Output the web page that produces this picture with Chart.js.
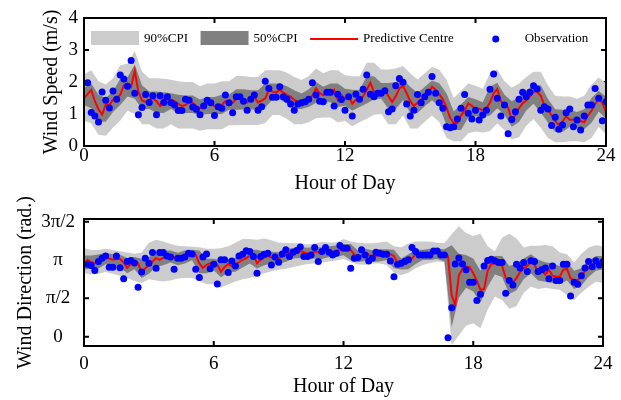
<!DOCTYPE html>
<html>
<head>
<meta charset="utf-8">
<script src="https://cdn.jsdelivr.net/npm/chart.js@4.4.1/dist/chart.umd.min.js"></script>
<style>
  html, body { margin: 0; padding: 0; background: #fff; }
  .panel { position: absolute; left: 0; width: 621px; }
  #speedPanel { top: 0; height: 200px; }
  #directionPanel { top: 180px; height: 220px; }
  canvas { display: block; }
</style>
</head>
<body>
<div class="panel" id="speedPanel"><canvas id="speedChart" width="621" height="200"></canvas></div>
<div class="panel" id="directionPanel"><canvas id="directionChart" width="621" height="220"></canvas></div>
<script>
// observations every 10 min starting 00:10, centre every 10 min from 00:00,
// interval bounds every 20 min from 00:00
const stepHours = 1 / 6;
const bandStepHours = 1 / 3;
const hourTicks = [0, 6, 12, 18, 24];

// ---- wind speed (m/s) ----
const speedObserved = [
  1.98,1.05,0.94,0.75,1.69,1.43,1.19,1.72,1.46,2.22,
  2.09,1.87,2.67,1.65,0.98,1.20,1.61,1.36,1.57,0.98,
  1.57,1.36,1.54,1.35,1.28,1.11,1.11,1.46,1.43,1.22,
  1.15,0.98,1.25,1.43,1.35,0.95,1.23,1.18,1.59,1.35,
  1.04,1.54,1.54,1.40,1.12,1.46,1.59,1.12,1.23,2.02,
  1.80,1.52,1.52,1.85,1.54,1.46,1.31,1.12,1.31,1.35,
  1.38,1.46,1.98,1.59,1.40,1.38,1.68,1.68,1.25,1.62,
  1.45,1.12,1.54,0.94,1.62,1.46,1.77,2.22,1.62,1.54,
  1.65,1.65,1.73,1.07,1.16,1.88,2.11,1.99,1.31,0.94,
  1.12,1.61,1.35,1.54,1.68,2.17,1.65,1.35,1.18,0.60,
  0.57,0.60,0.84,1.18,1.61,1.02,0.84,1.12,0.81,0.97,
  1.12,1.77,2.25,1.49,0.94,1.28,0.38,0.83,1.07,1.46,
  1.68,1.54,1.68,1.88,1.78,1.12,1.23,1.16,0.64,0.90,
  0.52,0.66,1.04,1.16,0.60,0.81,0.50,0.94,1.28,1.28,
  1.80,1.49,0.79,1.38
];
const speedCentre = [
  1.50,1.62,1.75,1.40,1.15,0.98,1.30,1.28,1.45,1.50,
  1.60,1.90,1.95,1.85,2.35,1.70,1.42,1.38,1.45,1.50,
  1.40,1.25,1.48,1.38,1.45,1.40,1.32,1.25,1.28,1.38,
  1.35,1.25,1.18,1.22,1.30,1.33,1.25,1.22,1.28,1.40,
  1.38,1.35,1.49,1.57,1.46,1.36,1.48,1.54,1.36,1.42,
  1.49,1.75,1.70,1.67,1.75,1.67,1.59,1.54,1.44,1.38,
  1.38,1.44,1.46,1.57,1.80,1.65,1.59,1.65,1.59,1.75,
  1.44,1.59,1.48,1.56,1.32,1.45,1.44,1.55,1.75,1.98,
  1.68,1.70,1.70,1.77,1.55,1.38,1.55,1.80,1.88,1.65,
  1.40,1.25,1.35,1.46,1.52,1.65,1.85,1.76,1.62,1.45,
  1.20,0.88,0.72,0.72,0.95,1.10,1.33,1.26,1.15,1.16,
  1.12,1.17,1.36,1.65,1.78,1.40,1.28,1.20,0.82,0.97,
  1.18,1.33,1.42,1.54,1.70,1.70,1.57,1.27,1.14,0.95,
  0.78,0.66,0.76,0.93,0.82,0.82,0.86,0.78,0.74,0.95,
  1.10,1.30,1.52,1.34,1.07
];
const speedUpper90 = [
  2.24,2.37,2.02,1.92,2.12,2.52,2.57,2.97,2.32,2.12,
  2.12,2.10,2.07,2.02,2.00,2.00,1.87,1.95,1.95,2.02,
  2.02,2.19,2.19,2.16,2.16,2.37,2.37,2.37,2.29,2.16,
  2.06,2.19,2.42,2.27,2.37,2.37,2.21,2.18,2.17,2.60,
  2.60,2.39,2.39,2.42,2.50,2.27,2.08,2.27,2.47,2.38,
  2.07,1.50,1.72,1.95,1.88,1.79,2.27,2.40,2.02,1.82,
  1.95,2.16,2.32,2.32,1.89,1.57,1.55,1.55,1.48,1.57,
  1.92,2.14,1.96
];
const speedLower90 = [
  0.80,0.70,0.35,0.32,0.58,0.80,1.10,1.00,0.68,0.68,
  0.55,0.55,0.68,0.55,0.55,0.55,0.48,0.52,0.52,0.52,
  0.65,0.65,0.66,0.66,0.66,0.72,0.97,0.97,0.84,0.68,
  0.68,0.74,0.87,0.89,0.89,0.74,0.78,0.62,0.74,0.85,
  0.98,1.00,0.68,0.68,0.95,0.55,0.55,0.76,0.95,0.75,
  0.25,0.15,0.15,0.40,0.45,0.42,0.47,0.70,0.50,0.20,
  0.27,0.63,0.84,0.57,0.25,0.12,0.12,0.15,0.15,0.12,
  0.25,0.60,0.37
];
const speedUpper50 = [
  1.82,1.95,1.60,1.50,1.70,2.10,2.15,2.55,1.90,1.70,
  1.70,1.68,1.65,1.60,1.58,1.58,1.45,1.53,1.53,1.60,
  1.60,1.77,1.77,1.74,1.74,1.95,1.95,1.95,1.87,1.74,
  1.64,1.77,2.00,1.85,1.95,1.95,1.79,1.76,1.75,2.18,
  2.18,1.97,1.97,2.00,2.08,1.85,1.66,1.85,2.05,1.96,
  1.65,1.08,1.30,1.53,1.46,1.37,1.85,1.98,1.60,1.40,
  1.53,1.74,1.90,1.90,1.47,1.15,1.13,1.13,1.06,1.15,
  1.50,1.72,1.54
];
const speedLower50 = [
  1.28,1.18,0.76,0.76,1.06,1.28,1.55,1.48,1.16,1.16,
  1.03,1.03,1.16,1.03,1.03,1.03,0.96,1.00,1.00,1.00,
  1.13,1.13,1.14,1.14,1.14,1.20,1.45,1.45,1.32,1.16,
  1.16,1.22,1.35,1.37,1.37,1.22,1.26,1.10,1.22,1.33,
  1.46,1.48,1.16,1.16,1.43,1.03,1.03,1.24,1.43,1.23,
  0.66,0.50,0.50,0.88,0.93,0.90,0.95,1.18,0.98,0.60,
  0.75,1.11,1.32,1.05,0.73,0.44,0.44,0.60,0.56,0.52,
  0.73,1.08,0.85
];

// ---- wind direction (rad) ----
const directionObserved = [
  2.97,2.92,2.71,3.08,3.21,3.30,2.84,2.84,3.31,2.82,
  2.37,3.08,3.12,3.02,2.03,2.65,3.21,3.01,3.45,2.80,
  3.45,3.45,3.31,3.26,2.76,3.21,3.21,3.26,3.42,3.39,
  2.76,2.42,3.26,3.39,2.78,2.97,2.16,3.15,3.15,2.63,
  3.10,2.90,3.31,3.38,3.52,3.49,3.28,2.60,3.28,3.38,
  3.42,2.94,3.26,3.05,3.39,3.56,3.28,3.46,3.53,3.67,
  3.28,3.28,3.35,3.65,3.08,3.49,3.65,3.46,3.35,3.42,
  3.73,3.62,3.62,2.80,3.21,3.24,3.56,3.35,3.10,3.21,
  3.46,3.42,3.38,3.38,3.10,2.46,2.97,3.01,3.08,3.15,
  3.65,3.49,3.35,3.35,3.35,3.35,3.51,3.51,3.35,3.35,
  -0.04,1.19,2.98,3.22,2.98,2.74,2.23,2.23,1.48,1.74,
  2.90,3.12,3.17,3.11,3.04,3.04,1.78,2.30,2.12,2.97,
  2.81,3.04,2.67,3.11,3.08,2.67,2.74,2.81,2.37,2.90,
  2.30,2.30,2.97,2.97,1.67,2.23,2.15,2.50,2.81,3.08,
  2.87,3.11,2.94,3.08
];
const directionCentre = [
  2.97,3.15,3.05,3.01,3.12,3.19,3.26,3.20,3.15,3.18,
  3.18,3.04,2.82,2.98,3.08,3.01,2.62,2.80,2.94,3.08,
  3.22,3.15,3.24,3.35,3.33,3.26,3.15,3.22,3.28,3.35,
  3.38,3.35,3.00,2.82,2.94,3.01,2.98,2.94,2.66,2.85,
  2.98,2.88,2.94,3.05,3.15,3.22,3.32,3.38,3.01,3.15,
  3.24,3.30,3.24,3.22,3.22,3.28,3.38,3.44,3.42,3.44,
  3.50,3.46,3.40,3.42,3.49,3.45,3.40,3.48,3.52,3.48,
  3.50,3.56,3.60,3.62,3.55,3.35,3.28,3.32,3.42,3.36,
  3.28,3.30,3.38,3.40,3.36,3.38,3.30,3.02,2.97,2.98,
  3.05,3.20,3.38,3.38,3.36,3.36,3.38,3.42,3.42,3.40,
  3.40,3.30,1.70,1.30,2.50,2.78,2.87,2.85,2.60,2.30,
  1.92,1.95,2.70,2.98,3.00,3.01,2.90,2.40,2.24,2.22,
  2.40,2.65,2.81,2.90,3.08,2.95,2.62,2.72,2.55,2.74,
  2.50,2.46,2.46,2.75,2.78,2.40,2.28,2.32,2.46,2.70,
  2.80,2.94,3.01,2.98,3.08
];
const directionUpper90 = [
  3.63,3.55,3.55,3.60,3.55,3.50,3.45,3.40,3.45,3.85,
  3.97,3.90,3.80,3.72,3.70,3.68,3.66,3.60,3.60,3.62,
  3.70,3.85,4.00,4.00,3.97,4.02,3.95,3.85,3.85,3.83,
  3.83,3.78,3.82,3.88,3.86,3.86,4.00,3.90,3.85,3.83,
  3.83,3.86,3.90,3.70,3.66,3.82,3.90,3.90,3.90,3.85,
  3.83,4.20,4.52,4.25,4.12,4.22,3.70,3.50,4.05,4.22,
  4.02,3.65,3.72,3.72,3.76,3.70,3.45,3.38,3.05,3.40,
  3.65,3.75,3.70
];
const directionLower90 = [
  2.60,2.55,2.58,2.65,2.58,2.50,2.40,2.28,2.20,2.35,
  2.30,2.26,2.30,2.38,2.40,2.40,2.28,2.15,2.15,2.00,
  2.15,2.26,2.35,2.40,2.50,2.60,2.68,2.74,2.78,2.85,
  2.92,2.98,3.00,3.04,3.08,3.12,3.18,3.06,2.96,2.95,
  3.00,3.00,2.94,2.62,2.52,2.62,2.80,2.94,3.02,3.08,
  3.05,-0.34,0.05,0.45,0.55,0.35,1.10,1.65,1.50,1.15,
  1.25,1.80,2.05,1.95,2.00,1.95,1.92,1.70,1.50,1.80,
  2.05,2.25,2.20
];
const directionUpper50 = [
  3.33,3.33,3.37,3.44,3.38,3.36,3.22,3.26,3.19,3.26,
  3.40,3.53,3.53,3.44,3.53,3.56,3.53,3.19,3.19,3.12,
  3.16,3.23,3.40,3.56,3.56,3.48,3.48,3.46,3.62,3.62,
  3.68,3.64,3.67,3.66,3.70,3.74,3.80,3.80,3.53,3.60,
  3.54,3.58,3.58,3.56,3.20,3.38,3.56,3.56,3.60,3.60,
  3.58,3.75,3.40,3.35,3.20,2.70,3.25,3.30,3.30,2.90,
  3.00,3.20,3.38,3.15,3.05,3.00,2.90,3.05,2.70,2.80,
  3.10,3.30,3.30
];
const directionLower50 = [
  2.75,2.79,2.79,2.97,2.93,2.82,2.60,2.76,2.40,2.58,
  2.86,2.93,3.04,2.93,3.00,3.13,2.60,2.60,2.72,2.44,
  2.63,2.66,2.83,3.00,2.79,2.93,3.00,3.00,3.06,3.20,
  3.22,3.18,3.20,3.18,3.26,3.26,3.34,3.13,3.06,3.10,
  3.06,3.08,3.14,2.80,2.75,2.76,2.98,3.14,3.14,3.18,
  3.08,0.40,1.60,2.00,1.85,1.40,2.05,2.55,2.45,1.75,
  1.90,2.35,2.60,2.30,2.25,2.20,2.15,2.30,1.95,2.10,
  2.45,2.70,2.75
];
const directionTickValues = [0, Math.PI / 2, Math.PI, 3 * Math.PI / 2];
const directionTickLabels = ['0', 'π/2', 'π', '3π/2'];

const LIGHT = '#cccccc';
const DARK = '#808080';
const RED = '#ff0000';
const BLUE = '#0000ff';

Chart.defaults.font.family = '"Liberation Serif", "Times New Roman", serif';
Chart.defaults.color = '#000';

function pointsFrom(values, firstIndex, step) {
  return values.map((v, i) => ({ x: (firstIndex + i) * step, y: v }));
}

// MATLAB-like box with inward tick marks on all four sides
const boxAndTicks = {
  id: 'boxAndTicks',
  beforeDatasetsDraw(chart) {
    const { ctx, chartArea: a, scales: { x, y } } = chart;
    ctx.save();
    ctx.strokeStyle = '#000';
    ctx.lineWidth = 2;
    ctx.beginPath();
    x.ticks.forEach(t => {
      const px = x.getPixelForValue(t.value);
      ctx.moveTo(px, a.bottom); ctx.lineTo(px, a.bottom - 5);
      ctx.moveTo(px, a.top); ctx.lineTo(px, a.top + 5);
    });
    y.ticks.forEach(t => {
      const py = y.getPixelForValue(t.value);
      ctx.moveTo(a.left, py); ctx.lineTo(a.left + 5, py);
      ctx.moveTo(a.right, py); ctx.lineTo(a.right - 5, py);
    });
    ctx.stroke();
    ctx.restore();
  },
  afterDraw(chart) {
    const { ctx, chartArea: a } = chart;
    ctx.save();
    ctx.strokeStyle = '#000';
    ctx.lineWidth = 2;
    ctx.strokeRect(a.left, a.top, a.right - a.left, a.bottom - a.top);
    ctx.restore();
  }
};

// legend drawn inside the plot area, one row along the top
const insideLegend = {
  id: 'insideLegend',
  afterDatasetsDraw(chart) {
    const { ctx, chartArea } = chart;
    const items = [
      { label: '90%CPI', kind: 'box', color: LIGHT, gap: 12.5 },
      { label: '50%CPI', kind: 'box', color: DARK, gap: 12.5 },
      { label: 'Predictive Centre', kind: 'line', color: RED, gap: 18 },
      { label: 'Observation', kind: 'dot', color: BLUE, gap: 0 }
    ];
    ctx.save();
    ctx.font = '13px "Liberation Serif"';
    ctx.textBaseline = 'middle';
    let x = chartArea.left + 7;
    const y = chartArea.top + 20;
    items.forEach(item => {
      if (item.kind === 'box') {
        ctx.fillStyle = item.color;
        ctx.fillRect(x, y - 7, 48, 14);
      } else if (item.kind === 'line') {
        ctx.strokeStyle = item.color;
        ctx.lineWidth = 2;
        ctx.beginPath();
        ctx.moveTo(x, y + 1);
        ctx.lineTo(x + 48, y + 1);
        ctx.stroke();
      } else {
        ctx.fillStyle = item.color;
        ctx.beginPath();
        ctx.arc(x + 24, y + 1, 3.5, 0, Math.PI * 2);
        ctx.fill();
      }
      ctx.fillStyle = '#000';
      ctx.fillText(item.label, x + 53, y + 1);
      x += 53 + ctx.measureText(item.label).width + item.gap;
    });
    ctx.restore();
  }
};

function buildPanel(canvasId, p) {
  const yScale = {
    type: 'linear',
    min: p.yMin,
    max: p.yMax,
    grid: { display: false, drawTicks: false },
    border: { display: false },
    ticks: {
      font: { size: 19, lineHeight: 1 },
      padding: p.yTickPadding,
      crossAlign: p.yCrossAlign
    },
    title: {
      display: true,
      text: p.yTitle,
      font: { size: 20, lineHeight: 1.2 },
      padding: { top: p.yTitleOffset, bottom: 0 }
    },
    afterFit: scale => { scale.width = 84; }
  };
  if (p.yTickValues) {
    yScale.afterBuildTicks = scale => {
      scale.ticks = p.yTickValues.map(v => ({ value: v }));
    };
    yScale.ticks.callback = (value, index) => p.yTickLabels[index];
  } else {
    yScale.ticks.stepSize = 1;
  }

  return new Chart(document.getElementById(canvasId), {
    type: 'line',
    data: {
      datasets: [
        {
          label: 'Observation',
          data: pointsFrom(p.observed, 1, stepHours),
          showLine: false,
          pointRadius: 3.5,
          pointBackgroundColor: BLUE,
          pointBorderWidth: 0
        },
        {
          label: 'Predictive Centre',
          data: pointsFrom(p.centre, 0, stepHours),
          borderColor: RED,
          borderWidth: 2,
          pointRadius: 0,
          tension: 0,
          fill: false
        },
        {
          label: '50%CPI',
          data: pointsFrom(p.upper50, 0, bandStepHours),
          backgroundColor: DARK,
          borderWidth: 0,
          pointRadius: 0,
          fill: '+1'
        },
        {
          data: pointsFrom(p.lower50, 0, bandStepHours),
          borderWidth: 0,
          pointRadius: 0,
          fill: false
        },
        {
          label: '90%CPI',
          data: pointsFrom(p.upper90, 0, bandStepHours),
          backgroundColor: LIGHT,
          borderWidth: 0,
          pointRadius: 0,
          fill: '+1'
        },
        {
          data: pointsFrom(p.lower90, 0, bandStepHours),
          borderWidth: 0,
          pointRadius: 0,
          fill: false
        }
      ]
    },
    options: {
      animation: false,
      responsive: false,
      events: [],
      layout: { padding: { top: p.topPad, right: 15, left: 0, bottom: 0 } },
      plugins: {
        legend: { display: false },
        tooltip: { enabled: false }
      },
      scales: {
        x: {
          type: 'linear',
          min: 0,
          max: 24,
          grid: { display: false, drawTicks: false },
          border: { display: false },
          afterBuildTicks: scale => {
            scale.ticks = hourTicks.map(v => ({ value: v }));
          },
          ticks: { font: { size: 19, lineHeight: 1 }, padding: p.xTickPadding, maxRotation: 0 },
          title: {
            display: true,
            text: 'Hour of Day',
            font: { size: 20, lineHeight: 1.2 },
            padding: { top: 0, bottom: p.xTitleOffset }
          },
          afterFit: scale => { scale.height = 54; }
        },
        y: yScale
      }
    },
    plugins: p.withLegend ? [boxAndTicks, insideLegend] : [boxAndTicks]
  });
}

buildPanel('speedChart', {
  observed: speedObserved,
  centre: speedCentre,
  upper90: speedUpper90,
  lower90: speedLower90,
  upper50: speedUpper50,
  lower50: speedLower50,
  yMin: 0,
  yMax: 4,
  yTitle: 'Wind Speed (m/s)',
  yTitleOffset: 40,
  yTickPadding: 6,
  yCrossAlign: 'near',
  xTickPadding: 1,
  xTitleOffset: 4.5,
  topPad: 18,
  withLegend: true
});

buildPanel('directionChart', {
  observed: directionObserved,
  centre: directionCentre,
  upper90: directionUpper90,
  lower90: directionLower90,
  upper50: directionUpper50,
  lower50: directionLower50,
  yMin: -0.38,
  yMax: 4.82,
  yTickValues: directionTickValues,
  yTickLabels: directionTickLabels,
  yTitle: 'Wind Direction (rad.)',
  yTitleOffset: 13.5,
  yTickPadding: 9,
  yCrossAlign: 'center',
  xTickPadding: 8.5,
  xTitleOffset: 1,
  topPad: 39,
  withLegend: false
});
</script>
</body>
</html>
